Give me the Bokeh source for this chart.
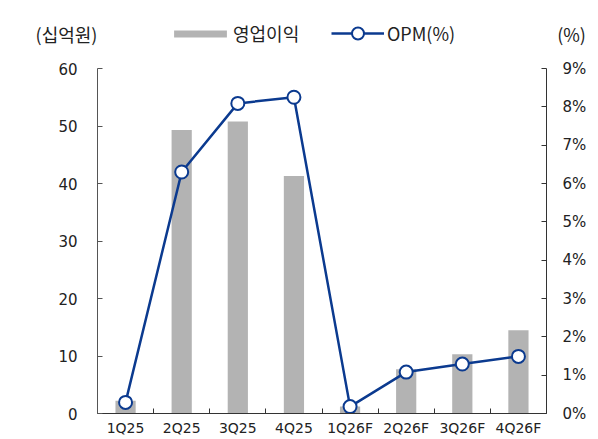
from bokeh.plotting import figure
from bokeh.layouts import column
from bokeh.models import (Range1d, LinearAxis, FixedTicker, PrintfTickFormatter,
                          Legend, LegendItem, Label, ColumnDataSource)
from bokeh.embed import file_html
from bokeh.resources import INLINE

categories = ["1Q25", "2Q25", "3Q25", "4Q25", "1Q26F", "2Q26F", "3Q26F", "4Q26F"]
op_profit = [2.2, 49.3, 50.8, 41.3, 1.2, 7.7, 10.3, 14.5]
opm_pct = [0.29, 6.3, 8.09, 8.25, 0.18, 1.08, 1.29, 1.49]
left_ticks = [0, 10, 20, 30, 40, 50, 60]
right_ticks = [0, 1, 2, 3, 4, 5, 6, 7, 8, 9]

BAR = "#b3b3b3"
NAVY = "#0b3a8f"
TXT = "#222222"
NUM_FONT = "DejaVu Sans"
KR_FONT = "Noto Sans CJK KR"

W = 598
H_HEAD = 56
H_MAIN = 382

# ---------- header (legend + unit labels) ----------
head = figure(width=W, height=H_HEAD, output_backend="svg", toolbar_location=None,
              x_axis_type=None, y_axis_type=None, min_border=0, frame_align=False,
              x_range=Range1d(0, 1), y_range=Range1d(0, 1))
head.outline_line_color = None
head.xgrid.visible = False
head.ygrid.visible = False
# legend-key proxies (kept outside the visible range)
key_src = ColumnDataSource(dict(x=[-5], y=[-5]))
hb = head.vbar(x="x", top="y", width=0.1, source=key_src, fill_color=BAR, line_color=None)
hl = head.line(x="x", y="y", source=key_src, line_color=NAVY, line_width=2.5)
hs = head.scatter(x="x", y="y", source=key_src, fill_color="white",
                  line_color=NAVY, line_width=2)

common = dict(orientation="horizontal", padding=0, margin=0, border_line_color=None,
              background_fill_alpha=0, label_text_font=KR_FONT,
              label_text_font_size="18px", label_text_color=TXT)
leg1 = Legend(items=[LegendItem(label="영업이익", renderers=[hb])],
              location=(167, 10), glyph_width=66, glyph_height=9, label_standoff=0, **common)
leg2 = Legend(items=[LegendItem(label="OPM(%)", renderers=[hl, hs])],
              location=(331, 8), glyph_width=53, glyph_height=30, label_standoff=3, **common)
head.add_layout(leg1, "center")
head.add_layout(leg2, "center")
head.add_layout(Label(x=66, y=23, x_units="screen", y_units="screen", text="(십억원)",
                      text_align="center", text_baseline="middle", text_font=KR_FONT,
                      text_font_size="18px", text_color=TXT))
head.add_layout(Label(x=571, y=23, x_units="screen", y_units="screen", text="(%)",
                      text_align="center", text_baseline="middle", text_font=KR_FONT,
                      text_font_size="18px", text_color=TXT))

# ---------- main chart ----------
xs = list(range(len(categories)))
src = ColumnDataSource(dict(x=xs, op=op_profit, opm=opm_pct))

p = figure(width=W, height=H_MAIN, output_backend="svg", toolbar_location=None,
           frame_align=False,
           x_range=Range1d(-0.5, len(categories) - 0.5), y_range=Range1d(0, 60),
           min_border_left=97, min_border_right=52, min_border_top=12, min_border_bottom=10)
p.extra_y_ranges = {"opm": Range1d(0, 9)}
p.outline_line_color = None
p.xgrid.visible = False
p.ygrid.visible = False

p.vbar(x="x", top="op", width=0.36, source=src, fill_color=BAR, line_color=None)
p.line(x="x", y="opm", source=src, y_range_name="opm", line_color=NAVY, line_width=2.5)
p.scatter(x="x", y="opm", source=src, y_range_name="opm", size=13,
          fill_color="white", line_color=NAVY, line_width=2)

xa = p.xaxis[0]
xa.ticker = FixedTicker(ticks=xs, minor_ticks=[i - 0.5 for i in range(len(categories) + 1)])
xa.major_label_overrides = {i: c for i, c in enumerate(categories)}
xa.major_tick_in = 0
xa.major_tick_out = 0
xa.minor_tick_in = 5
xa.minor_tick_out = 0
xa.minor_tick_line_color = "#333333"
xa.axis_line_color = "#333333"
xa.major_label_text_font = NUM_FONT
xa.major_label_text_font_size = "14px"
xa.major_label_text_color = TXT
xa.major_label_standoff = 6

ya = p.yaxis[0]
ya.ticker = FixedTicker(ticks=left_ticks)
ya.major_tick_in = 5
ya.major_tick_out = 0
ya.minor_tick_line_color = None
ya.axis_line_color = "#555555"
ya.major_tick_line_color = "#555555"
ya.major_label_text_font = NUM_FONT
ya.major_label_text_font_size = "15px"
ya.major_label_text_color = TXT
ya.major_label_standoff = 20

ra = LinearAxis(y_range_name="opm", ticker=FixedTicker(ticks=right_ticks),
                formatter=PrintfTickFormatter(format="%d%%"))
ra.major_tick_in = 5
ra.major_tick_out = 0
ra.minor_tick_line_color = None
ra.axis_line_color = "#333333"
ra.major_tick_line_color = "#333333"
ra.major_label_text_font = NUM_FONT
ra.major_label_text_font_size = "15px"
ra.major_label_text_color = TXT
ra.major_label_standoff = 16
p.add_layout(ra, "right")

layout = column(head, p)
open("out.html", "w").write(file_html(layout, INLINE))
